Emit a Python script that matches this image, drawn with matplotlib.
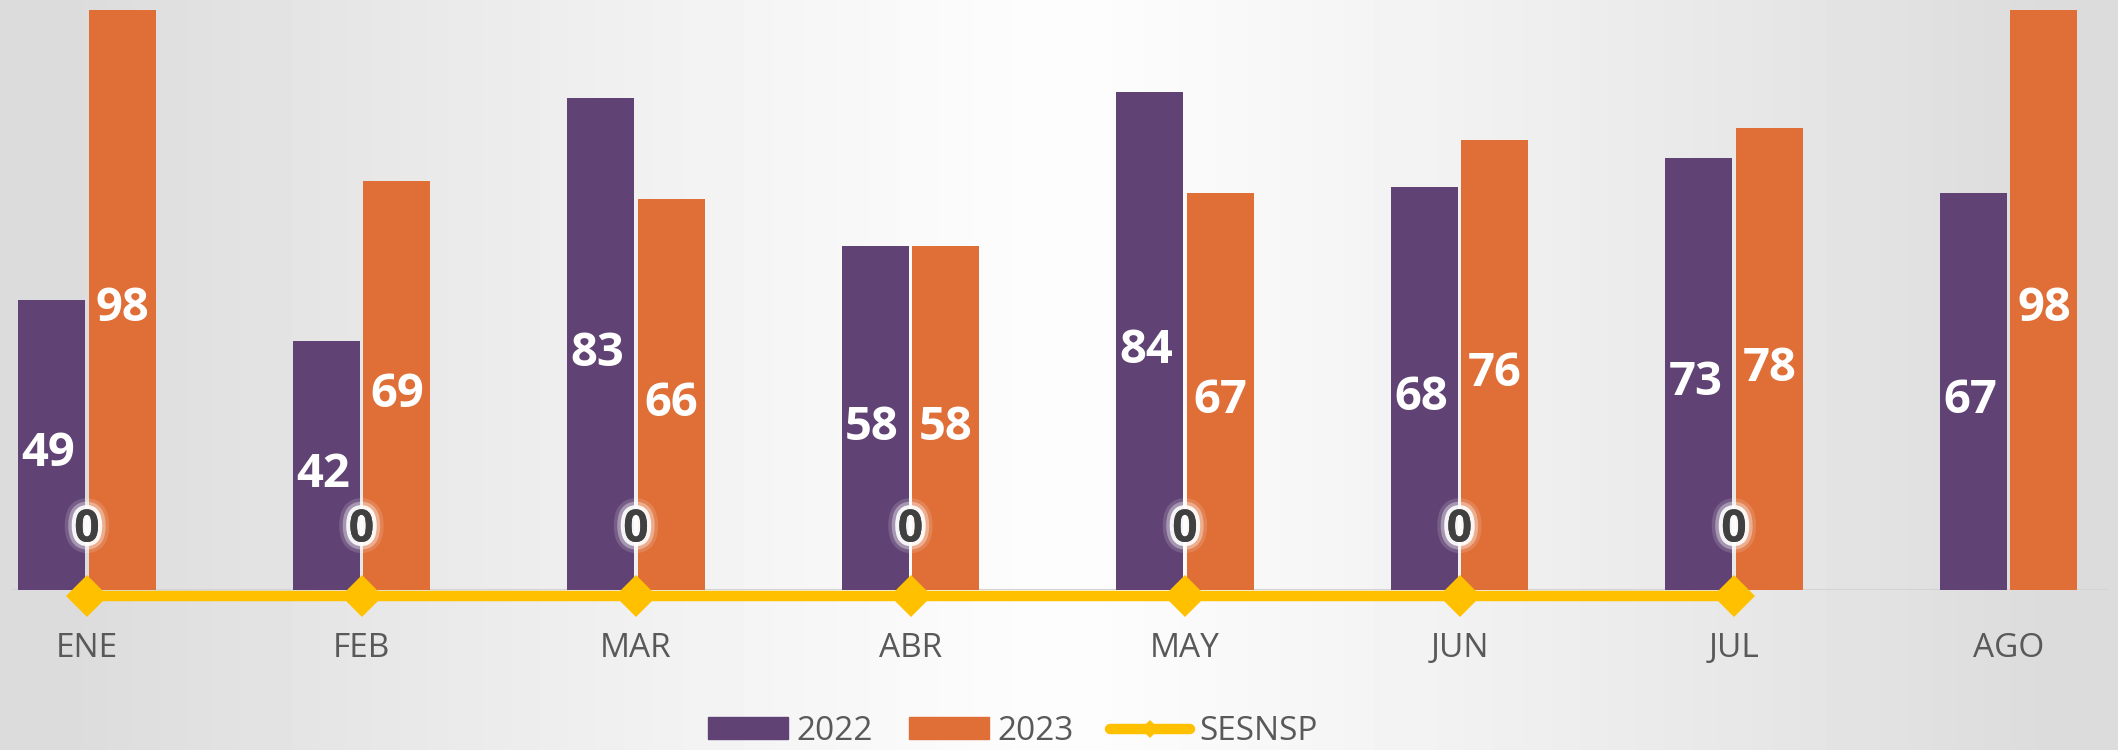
import numpy as np
import matplotlib
matplotlib.use("Agg")
import matplotlib.pyplot as plt
import matplotlib.patheffects as pe
from matplotlib.lines import Line2D
from matplotlib.patches import Patch

# ---- data ----
months = ["ENE", "FEB", "MAR", "ABR", "MAY", "JUN", "JUL", "AGO"]
v2022 = [49, 42, 83, 58, 84, 68, 73, 67]
v2023 = [98, 69, 66, 58, 67, 76, 78, 98]
sesnsp = [0, 0, 0, 0, 0, 0, 0]          # ENE..JUL
series_names = ["2022", "2023", "SESNSP"]

# ---- style ----
C22 = "#604374"
C23 = "#DF6E37"
CY = "#FFC000"
TXT = "#595959"
plt.rcParams["font.family"] = ["Open Sans", "DejaVu Sans"]

W, H = 2118, 750
fig = plt.figure(figsize=(W / 100, H / 100), dpi=100)

# background gradient (white centre, grey edges)
bg = fig.add_axes([0, 0, 1, 1], zorder=-10)
xs = np.linspace(-1, 1, W)
d = np.abs(xs)
vals = 253 - 33 * np.clip(d * 1.08, 0, 1) ** 1.15
img = np.tile(vals, (10, 1))
bg.imshow(img, cmap="gray", vmin=0, vmax=255, aspect="auto", extent=[0, 1, 0, 1])
bg.set_axis_off()

base_px = 590
ax = fig.add_axes([0, (H - base_px) / H, 1, base_px / H])
ax.patch.set_alpha(0)
x = np.arange(len(months))
c0, step = 87, 274.5
ax.set_xlim(-c0 / step, (W - c0) / step)
ppu = 5.923
ax.set_ylim(0, base_px / ppu)

bw = 0.244
off = 0.129
ax.bar(x - off, v2022, bw, color=C22, zorder=3)
ax.bar(x + off, v2023, bw, color=C23, zorder=3)

for xi, v in zip(x, v2022):
    ax.annotate(str(v), (xi - off, v / 2), xytext=(-3, -9), textcoords="offset pixels",
                ha="center", va="center", color="white", fontsize=34, fontweight="bold", zorder=5)
for xi, v in zip(x, v2023):
    ax.annotate(str(v), (xi + off, v / 2), xytext=(0, -9), textcoords="offset pixels",
                ha="center", va="center", color="white", fontsize=34, fontweight="bold", zorder=5)

# axis baseline
ax.axhline(0, xmin=0.006, xmax=0.995, color="#d4d4d4", lw=1.5, zorder=2)

for s in ax.spines.values():
    s.set_visible(False)
ax.set_yticks([])
ax.set_xticks(x)
ax.set_xticklabels(months, color=TXT, fontsize=24)
ax.tick_params(axis="x", length=0, pad=30)

# secondary axis for SESNSP line
ax2 = ax.twinx()
ax2.set_ylim(6 / ppu, base_px / ppu + 6 / ppu)
ax2.set_axis_off()
xl = x[:len(sesnsp)]
ax2.plot(xl, sesnsp, color=CY, lw=7.5, marker="D", ms=21, mec=CY, mew=0,
         solid_capstyle="butt", zorder=6, clip_on=False)
glow = [pe.withStroke(linewidth=16, foreground="white", alpha=0.15),
        pe.withStroke(linewidth=11, foreground="white", alpha=0.35),
        pe.withStroke(linewidth=6, foreground="white", alpha=0.9),
        pe.Normal()]
for xi, v in zip(xl, sesnsp):
    ax2.annotate(str(v), (xi, v), xytext=(0, 66), textcoords="offset pixels",
                 ha="center", va="center", color="#404040", fontsize=32,
                 fontweight="bold", zorder=7, path_effects=glow, annotation_clip=False)

handles = [Patch(color=C22), Patch(color=C23),
           Line2D([], [], color=CY, lw=7.5, marker="D", ms=9, mew=0, solid_capstyle="round")]
fig.legend(handles, series_names, loc="center", bbox_to_anchor=(0.478, 0.025),
           ncol=3, frameon=False, fontsize=24, labelcolor=TXT,
           handlelength=2.4, handletextpad=0.25, columnspacing=1.1, handleheight=0.6)

fig.savefig("out.png", dpi=100)
